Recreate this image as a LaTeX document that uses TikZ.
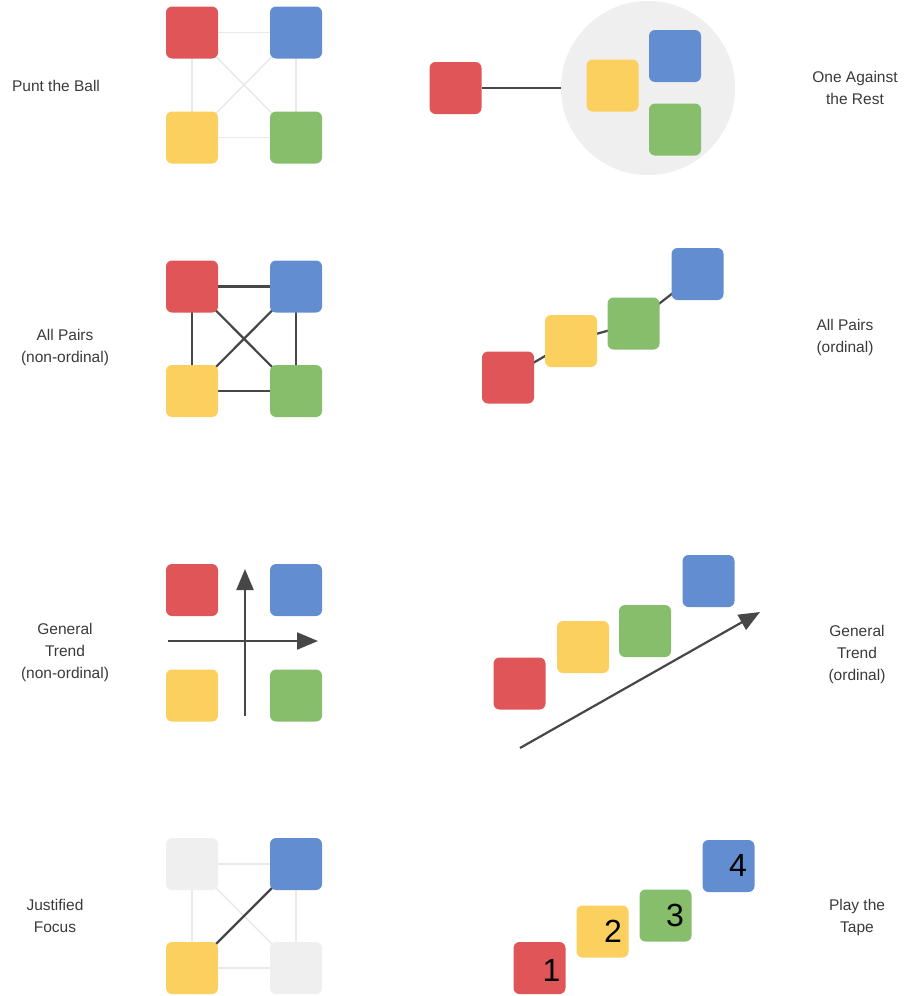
\documentclass[tikz,border=0pt]{standalone}
\usepackage{fontspec}
\setmainfont{Liberation Sans}
\usetikzlibrary{arrows.meta,backgrounds}
\definecolor{cred}{HTML}{DF5558}
\definecolor{cblue}{HTML}{628ED1}
\definecolor{cyellow}{HTML}{FBD05E}
\definecolor{cgreen}{HTML}{86BE6C}
\definecolor{cgrey}{HTML}{EFEFEF}
\definecolor{faint}{HTML}{EAEAEA}
\definecolor{dark}{HTML}{474747}
\definecolor{txt}{HTML}{3A3A3A}
\tikzset{
  sq/.style={rectangle, minimum width=52pt, minimum height=52pt, inner sep=0pt, rounded corners=6pt},
  lbl/.style={align=center, text=txt, font=\fontsize{15.5}{22}\selectfont},
  num/.style={text=black, font=\fontsize{32}{32}\selectfont, inner sep=0pt},
  faintln/.style={draw=faint, line width=1.6pt},
  darkln/.style={draw=dark, line width=2.2pt},
  arr/.style={draw=dark, line width=2.2pt, -{Triangle[length=21pt,width=17pt]}},
}
\begin{document}
\begin{tikzpicture}[x=1pt,y=-1pt]
\useasboundingbox (0,0) rectangle (914,996);

% ---------- Panel 1: Punt the Ball
\node[sq, fill=cred] (r1) at (192,32.5) {};
\node[sq, fill=cblue] (b1) at (296,32.5) {};
\node[sq, fill=cyellow] (y1) at (192,137.5) {};
\node[sq, fill=cgreen] (g1) at (296,137.5) {};
\begin{scope}[on background layer]
  \draw[faintln] (r1.center) -- (b1.center) -- (g1.center) -- (y1.center) -- cycle;
  \draw[faintln] (r1.center) -- (g1.center);
  \draw[faintln] (b1.center) -- (y1.center);
\end{scope}
\node[lbl] (t1) at (56,86) {Punt the Ball};

% ---------- Panel 2: One Against the Rest
\node[circle, fill=cgrey, minimum size=174pt, inner sep=0pt] (c2) at (648,88) {};
\node[sq, fill=cred] (r2) at (455.5,88) {};
\node[sq, fill=cyellow] (y2) at (612.5,85.5) {};
\node[sq, fill=cblue] (b2) at (675,56) {};
\node[sq, fill=cgreen] (g2) at (675,129.5) {};
\draw[darkln] (r2.east) -- (c2.west);
\node[lbl] (t2) at (855,88) {One Against\\the Rest};

% ---------- Panel 3: All Pairs (non-ordinal)
\node[sq, fill=cred] (r3) at (192,286.5) {};
\node[sq, fill=cblue] (b3) at (296,286.5) {};
\node[sq, fill=cyellow] (y3) at (192,391) {};
\node[sq, fill=cgreen] (g3) at (296,391) {};
\begin{scope}[on background layer]
  \draw[darkln] (r3.center) -- (b3.center) -- (g3.center) -- (y3.center) -- cycle;
  \draw[darkln] (r3.center) -- (g3.center);
  \draw[darkln] (b3.center) -- (y3.center);
\end{scope}
\node[lbl] (t3) at (65,347) {All Pairs\\(non-ordinal)};

% ---------- Panel 4: All Pairs (ordinal)
\node[sq, fill=cred] (r4) at (508,377.5) {};
\node[sq, fill=cyellow] (y4) at (571,341) {};
\node[sq, fill=cgreen] (g4) at (633.5,323.5) {};
\node[sq, fill=cblue] (b4) at (697.5,274) {};
\begin{scope}[on background layer]
  \draw[darkln] (r4.center) -- (y4.center) -- (g4.center) -- (b4.center);
\end{scope}
\node[lbl] (t4) at (845,337) {All Pairs\\(ordinal)};

% ---------- Panel 5: General Trend (non-ordinal)
\node[sq, fill=cred] (r5) at (192,590) {};
\node[sq, fill=cblue] (b5) at (296,590) {};
\node[sq, fill=cyellow] (y5) at (192,695.5) {};
\node[sq, fill=cgreen] (g5) at (296,695.5) {};
\coordinate (v5a) at (245,716);
\coordinate (v5b) at (245,569);
\coordinate (h5a) at (168,641);
\coordinate (h5b) at (318,641);
\draw[arr] (v5a) -- (v5b);
\draw[arr] (h5a) -- (h5b);
\node[lbl] (t5) at (65,652) {General\\Trend\\(non-ordinal)};

% ---------- Panel 6: General Trend (ordinal)
\node[sq, fill=cred] (r6) at (519.5,683.5) {};
\node[sq, fill=cyellow] (y6) at (583,647) {};
\node[sq, fill=cgreen] (g6) at (645,631) {};
\node[sq, fill=cblue] (b6) at (708.5,581) {};
\coordinate (a6a) at (520,748);
\coordinate (a6b) at (760,612);
\draw[arr] (a6a) -- (a6b);
\node[lbl] (t6) at (857,654) {General\\Trend\\(ordinal)};

% ---------- Panel 7: Justified Focus
\node[sq, fill=cgrey] (r7) at (192,864) {};
\node[sq, fill=cblue] (b7) at (296,864) {};
\node[sq, fill=cyellow] (y7) at (192,968) {};
\node[sq, fill=cgrey] (g7) at (296,968) {};
\begin{scope}[on background layer]
  \draw[faintln] (r7.center) -- (b7.center) -- (g7.center) -- (y7.center) -- cycle;
  \draw[faintln] (r7.center) -- (g7.center);
  \draw[darkln] (b7.center) -- (y7.center);
\end{scope}
\node[lbl] (t7) at (55,916) {Justified\\Focus};

% ---------- Panel 8: Play the Tape
\node[sq, fill=cred] (r8) at (539.5,968) {};
\node[sq, fill=cyellow] (y8) at (602.5,931.5) {};
\node[sq, fill=cgreen] (g8) at (665.5,915.5) {};
\node[sq, fill=cblue] (b8) at (728.5,866) {};
\node[num] (n1) at ([shift={(12,2)}]r8.center) {1};
\node[num] (n2) at ([shift={(10.5,0)}]y8.center) {2};
\node[num] (n3) at ([shift={(9.5,0)}]g8.center) {3};
\node[num] (n4) at ([shift={(9.5,-1)}]b8.center) {4};
\node[lbl] (t8) at (857,917) {Play the\\Tape};
\end{tikzpicture}
\end{document}
